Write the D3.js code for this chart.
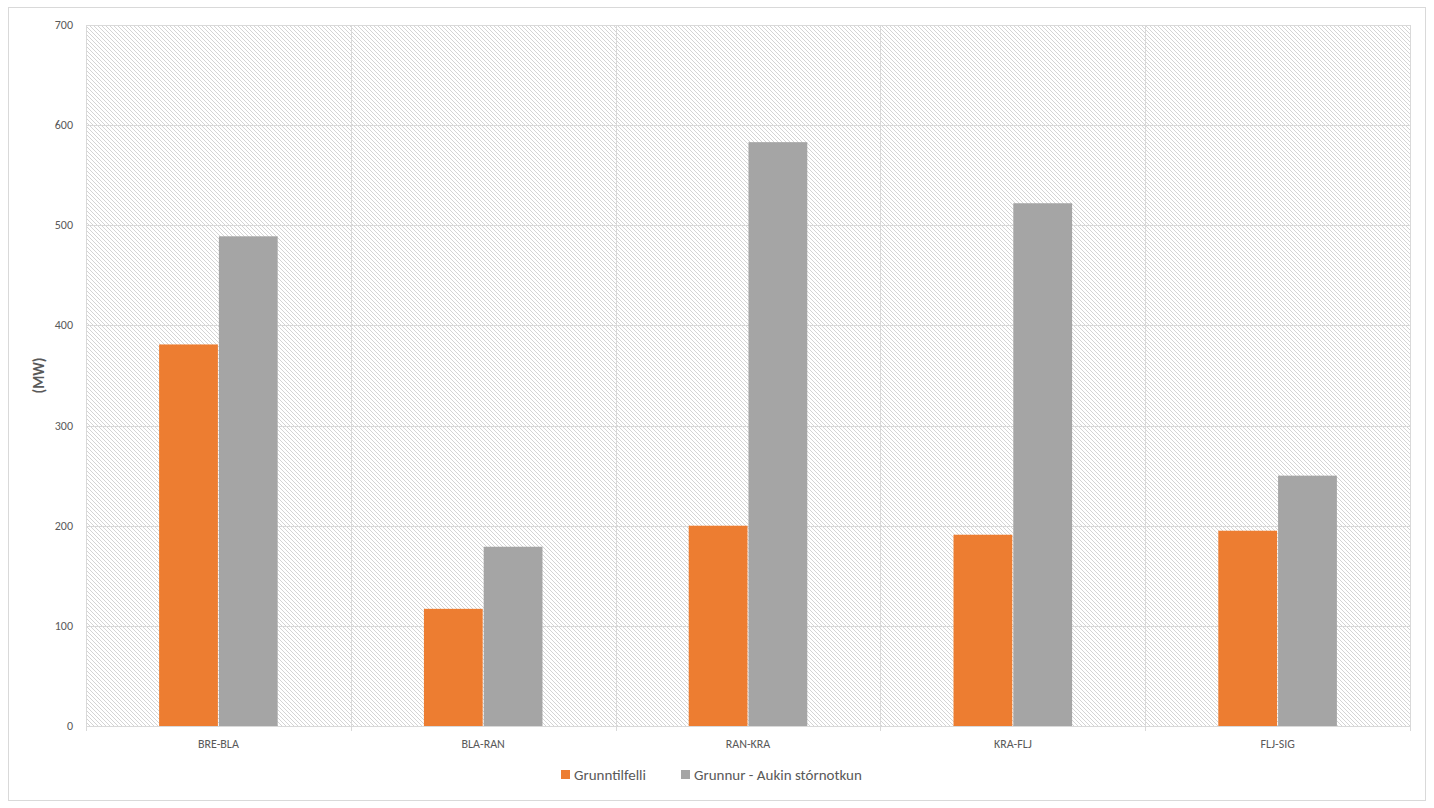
<!DOCTYPE html>
<html>
<head>
<meta charset="utf-8">
<script src="https://cdn.jsdelivr.net/npm/d3@7"></script>
<style>
    body { margin: 0; background: #fff; font-family: Calibri, Carlito, "Open Sans", sans-serif; }
</style>
</head>
<body>
<svg></svg>
<script>

/*
*   Data
*/

const categories = ['BRE-BLA', 'BLA-RAN', 'RAN-KRA', 'KRA-FLJ', 'FLJ-SIG']
const grunntilfelli = [381, 117, 200, 191, 195]
const storNotkun = [489, 179, 583, 522, 250]
const seriesNames = ['Grunntilfelli', 'Grunnur - Aukin stórnotkun']
const yTicks = [0, 100, 200, 300, 400, 500, 600, 700]

const COLORS = { orange: '#ed7d31', grey: '#a5a5a5', grid: '#d9d9d9', text: '#595959' }

const W = 1434, H = 808
const M = { left: 86, right: 24, top: 25, bottom: 82 }

const svg = d3.select('svg').attr('width', W).attr('height', H)

svg.append('rect')
.attr('x', 8.5).attr('y', 7.5).attr('width', W - 17).attr('height', H - 15)
.attr('fill', '#fff').attr('stroke', '#d9d9d9')

const defs = svg.append('defs')
const pat = defs.append('pattern')
.attr('id', 'hatch').attr('patternUnits', 'userSpaceOnUse')
.attr('width', 4).attr('height', 4)
pat.append('path').attr('d', 'M-1,-1 L5,5 M-1,3 L1,5 M3,-1 L5,1')
.attr('stroke', '#d4d4d4').attr('stroke-width', 1)

const x = d3.scaleBand().domain(categories).range([M.left, W - M.right])
const y = d3.scaleLinear().domain([0, 700]).range([H - M.bottom, M.top])

svg.append('rect')
.attr('x', M.left).attr('y', M.top)
.attr('width', W - M.right - M.left).attr('height', y(0) - M.top)
.attr('fill', 'url(#hatch)')

// horizontal gridlines
svg.append('g').selectAll('line').data(yTicks).join('line')
.attr('x1', M.left).attr('x2', W - M.right)
.attr('y1', d => Math.round(y(d)) + .5).attr('y2', d => Math.round(y(d)) + .5)
.attr('stroke', COLORS.grid)

// vertical gridlines at category boundaries
const bounds = categories.map(c => x(c)).concat([W - M.right])
svg.append('g').selectAll('line').data(bounds).join('line')
.attr('x1', d => Math.round(d) + .5).attr('x2', d => Math.round(d) + .5)
.attr('y1', M.top).attr('y2', y(0) + 5)
.attr('stroke', COLORS.grid)

// y labels
svg.append('g').selectAll('text').data(yTicks).join('text')
.attr('x', M.left - 13).attr('y', d => y(d) + 4)
.attr('text-anchor', 'end').attr('font-size', 12).attr('fill', COLORS.text)
.text(d => d)

svg.append('text')
.attr('transform', `translate(44,${(M.top + y(0)) / 2}) rotate(-90)`)
.attr('text-anchor', 'middle').attr('font-size', 15).attr('font-weight', 'bold')
.attr('fill', COLORS.text).text('(MW)')

// bars
const bw = x.bandwidth() * 0.222
const series = [grunntilfelli, storNotkun]
const fills = [COLORS.orange, COLORS.grey]
series.forEach((vals, s) => {
    svg.append('g').selectAll('rect').data(vals).join('rect')
    .attr('x', (d, i) => x(categories[i]) + x.bandwidth() / 2 - bw + s * (bw + 1) - 0.5)
    .attr('y', d => y(d))
    .attr('width', bw)
    .attr('height', d => y(0) - y(d))
    .attr('fill', fills[s])
})

// x labels
svg.append('g').selectAll('text').data(categories).join('text')
.attr('x', d => x(d) + x.bandwidth() / 2).attr('y', y(0) + 22)
.attr('text-anchor', 'middle').attr('font-size', 12).attr('fill', COLORS.text)
.text(d => d)

// legend
const legendX = [561, 681]
seriesNames.forEach((n, i) => {
    svg.append('rect').attr('x', legendX[i]).attr('y', 770).attr('width', 9).attr('height', 9).attr('fill', fills[i])
    svg.append('text').attr('x', legendX[i] + 13).attr('y', 779.5)
    .attr('font-size', 15).attr('fill', COLORS.text).text(n)
})

</script>
</body>
</html>
